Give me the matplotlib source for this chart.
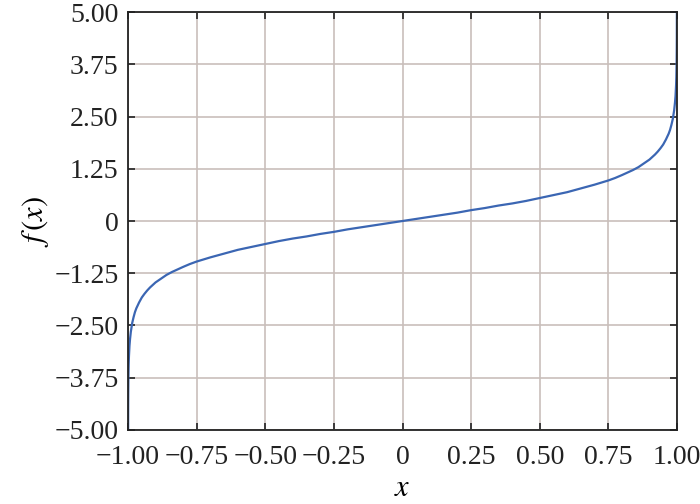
import numpy as np
import matplotlib.pyplot as plt

# curve points
x_vals = [-0.99991, -0.9997, -0.9995, -0.999, -0.998, -0.997, -0.995, -0.993,
          -0.99, -0.985, -0.98, -0.975, -0.97, -0.96, -0.95, -0.94, -0.93,
          -0.92, -0.9, -0.88, -0.86, -0.84, -0.82, -0.8, -0.775, -0.75,
          -0.725, -0.7, -0.65, -0.6, -0.55, -0.5, -0.45, -0.4, -0.35, -0.3,
          -0.25, -0.2, -0.15, -0.1, -0.05, 0.0,
          0.05, 0.1, 0.15, 0.2, 0.25, 0.3, 0.35, 0.4, 0.45, 0.5, 0.55, 0.6,
          0.65, 0.7, 0.725, 0.75, 0.775, 0.8, 0.82, 0.84, 0.86, 0.88, 0.9,
          0.92, 0.93, 0.94, 0.95, 0.96, 0.97, 0.975, 0.98, 0.985, 0.99,
          0.993, 0.995, 0.997, 0.998, 0.999, 0.9995, 0.9997, 0.99991]
y_vals = [-5.00, -4.40, -4.15, -3.80, -3.45, -3.25, -2.99, -2.83,
          -2.65, -2.44, -2.30, -2.18, -2.09, -1.95, -1.83, -1.74, -1.66,
          -1.59, -1.47, -1.38, -1.29, -1.22, -1.16, -1.10, -1.03, -0.97,
          -0.92, -0.87, -0.78, -0.69, -0.62, -0.55, -0.48, -0.42, -0.37, -0.31,
          -0.26, -0.20, -0.15, -0.10, -0.05, 0.00,
          0.05, 0.10, 0.15, 0.20, 0.26, 0.31, 0.37, 0.42, 0.48, 0.55, 0.62, 0.69,
          0.78, 0.87, 0.92, 0.97, 1.03, 1.10, 1.16, 1.22, 1.29, 1.38, 1.47,
          1.59, 1.66, 1.74, 1.83, 1.95, 2.09, 2.18, 2.30, 2.44, 2.65,
          2.83, 2.99, 3.25, 3.45, 3.80, 4.15, 4.40, 5.00]

x_ticks = [-1.0, -0.75, -0.5, -0.25, 0.0, 0.25, 0.5, 0.75, 1.0]
x_labels = ['\u22121.00', '\u22120.75', '\u22120.50', '\u22120.25', '0',
            '0.25', '0.50', '0.75', '1.00']
y_ticks = [-5.0, -3.75, -2.5, -1.25, 0.0, 1.25, 2.5, 3.75, 5.0]
y_labels = ['\u22125.00', '\u22123.75', '\u22122.50', '\u22121.25', '0',
            '1.25', '2.50', '3.75', '5.00']

plt.rcParams['font.family'] = ['Liberation Serif', 'DejaVu Serif']
plt.rcParams['mathtext.fontset'] = 'stix'

fig = plt.figure(figsize=(7, 5.04), dpi=100)
ax = fig.add_axes([0.183, 0.147, 0.784, 0.829])

ax.plot(x_vals, y_vals, color='#3b66b3', linewidth=1.6)

ax.set_xlim(-1, 1)
ax.set_ylim(-5, 5)
ax.set_xticks(x_ticks)
ax.set_xticklabels(x_labels)
ax.set_yticks(y_ticks)
ax.set_yticklabels(y_labels)
ax.grid(color='#c9bfbb', linestyle='-', linewidth=1.2)
ax.set_axisbelow(True)

ax.tick_params(direction='in', length=5, width=1.2, top=True, right=True,
               labelsize=20, colors='#222222')
ax.tick_params(axis='x', pad=11)
ax.tick_params(axis='y', pad=7)
for s in ax.spines.values():
    s.set_linewidth(1.3)
    s.set_color('#222222')

ax.set_xlabel('$x$', fontsize=22, labelpad=3)
ax.set_ylabel('$f\\,(x)$', fontsize=22, labelpad=2)

plt.savefig('out.png', dpi=100)
